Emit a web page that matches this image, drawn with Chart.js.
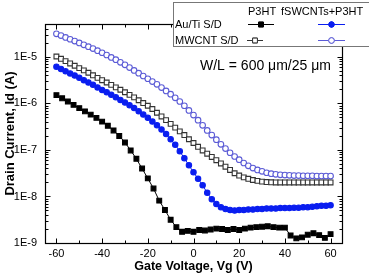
<!DOCTYPE html>
<html>
<head>
<meta charset="utf-8">
<script src="https://cdn.jsdelivr.net/npm/chart.js@4.4.1/dist/chart.umd.min.js"></script>
<style>
  html, body { margin: 0; padding: 0; background: #fff; }
  #wrap { width: 369px; height: 274px; position: relative; }
</style>
</head>
<body>
<div id="wrap"><canvas id="myChart" width="369" height="274"></canvas></div>
<script>
// gate voltage sweeps (V)
const vgStep2 = [-60,-58,-56,-54,-52,-50,-48,-46,-44,-42,-40,-38,-36,-34,-32,-30,-28,-26,-24,-22,
  -20,-18,-16,-14,-12,-10,-8,-6,-4,-2,0,2,4,6,8,10,12,14,16,18,20,22,24,26,28,30,32,34,36,38,
  40,42,44,46,48,50,52,54,56,58,60];
const vgStep25 = [-60,-57.5,-55,-52.5,-50,-47.5,-45,-42.5,-40,-37.5,-35,-32.5,-30,-27.5,-25,-22.5,
  -20,-17.5,-15,-12.5,-10,-7.5,-5,-2.5,0,2.5,5,7.5,10,12.5,15,17.5,20,22.5,25,27.5,30,32.5,35,37.5,
  40,42.5,45,47.5,50,52.5,55,57.5,60];

// drain current (A)
const auTiP3HT = [1.51e-6,1.29e-6,1.10e-6,9.33e-7,7.94e-7,6.76e-7,5.75e-7,4.90e-7,4.07e-7,3.31e-7,
  2.63e-7,2.0e-7,1.45e-7,9.77e-8,6.46e-8,3.98e-8,2.45e-8,1.48e-8,8.13e-9,5.13e-9,
  3.16e-9,2.19e-9,1.74e-9,1.82e-9,1.74e-9,1.91e-9,1.86e-9,1.95e-9,2.04e-9,2.0e-9,
  1.91e-9,2.0e-9,1.91e-9,2.04e-9,2.14e-9,2.19e-9,2.24e-9,2.29e-9,2.19e-9,2.14e-9,
  2.14e-9,1.45e-9,1.26e-9,1.32e-9,1.51e-9,1.62e-9,1.48e-9,1.29e-9,1.55e-9];
const auTiSWCNT = [6.17e-6,5.50e-6,4.90e-6,4.42e-6,3.98e-6,3.55e-6,3.16e-6,2.82e-6,2.51e-6,2.21e-6,
  1.95e-6,1.74e-6,1.53e-6,1.35e-6,1.19e-6,1.05e-6,9.12e-7,7.94e-7,6.76e-7,5.75e-7,
  4.90e-7,4.07e-7,3.39e-7,2.75e-7,2.19e-7,1.70e-7,1.29e-7,9.33e-8,6.61e-8,4.68e-8,
  3.31e-8,2.40e-8,1.74e-8,1.20e-8,8.71e-9,6.92e-9,5.89e-9,5.37e-9,5.13e-9,5.01e-9,
  5.13e-9,5.13e-9,5.25e-9,5.25e-9,5.37e-9,5.37e-9,5.50e-9,5.50e-9,5.50e-9,5.62e-9,
  5.62e-9,5.62e-9,5.75e-9,5.75e-9,5.89e-9,5.89e-9,6.03e-9,6.17e-9,6.31e-9,6.31e-9,6.46e-9];
const mwcntP3HT = [1.02e-5,9.12e-6,8.13e-6,7.24e-6,6.46e-6,5.75e-6,5.13e-6,4.57e-6,4.03e-6,3.55e-6,
  3.16e-6,2.82e-6,2.51e-6,2.21e-6,1.97e-6,1.74e-6,1.53e-6,1.35e-6,1.17e-6,1.02e-6,
  8.91e-7,7.59e-7,6.31e-7,5.25e-7,4.37e-7,3.63e-7,3.02e-7,2.51e-7,2.09e-7,1.70e-7,
  1.41e-7,1.17e-7,9.77e-8,8.32e-8,7.08e-8,6.03e-8,5.13e-8,4.37e-8,3.72e-8,3.16e-8,
  2.82e-8,2.57e-8,2.40e-8,2.26e-8,2.16e-8,2.09e-8,2.04e-8,2.02e-8,2.0e-8,2.0e-8,
  2.0e-8,2.0e-8,2.0e-8,2.0e-8,2.0e-8,2.0e-8,2.0e-8,2.0e-8,2.0e-8,2.0e-8,2.0e-8];
const mwcntSWCNT = [3.13e-5,2.88e-5,2.63e-5,2.40e-5,2.19e-5,2.0e-5,1.82e-5,1.66e-5,1.51e-5,1.36e-5,
  1.23e-5,1.10e-5,9.77e-6,8.71e-6,7.67e-6,6.76e-6,5.89e-6,5.13e-6,4.47e-6,3.89e-6,
  3.39e-6,2.95e-6,2.57e-6,2.19e-6,1.86e-6,1.58e-6,1.32e-6,1.10e-6,8.91e-7,7.08e-7,
  5.62e-7,4.37e-7,3.39e-7,2.63e-7,2.09e-7,1.66e-7,1.32e-7,1.07e-7,8.71e-8,7.24e-8,
  6.17e-8,5.25e-8,4.57e-8,4.07e-8,3.72e-8,3.47e-8,3.24e-8,3.09e-8,2.99e-8,2.92e-8,
  2.88e-8,2.85e-8,2.82e-8,2.82e-8,2.79e-8,2.79e-8,2.79e-8,2.75e-8,2.75e-8,2.75e-8,2.75e-8];

// axis ticks
const xTicks = [-60,-40,-20,0,20,40,60];
const yTicks = [1e-9,1e-8,1e-7,1e-6,1e-5];

const FONT = "Arial, 'Liberation Sans', sans-serif";
const BLUE = "#0a1ef0";
const BLUE_OPEN = "#5b5bd6";

function pts(xs, ys) {
  return ys.map((y, i) => ({ x: xs[i], y: y }));
}

function series(label, xs, ys, color, fill, style, r) {
  return {
    label: label,
    data: pts(xs, ys),
    showLine: true,
    borderColor: color,
    borderWidth: 1,
    backgroundColor: fill,
    pointBorderColor: color,
    pointBackgroundColor: fill,
    pointStyle: style,
    pointRadius: r,
    pointBorderWidth: 1.1,
    tension: 0,
  };
}

// frame, inward ticks, legend table and W/L note
const decorations = {
  id: 'decorations',
  afterDraw(chart) {
    const ctx = chart.ctx;
    const a = chart.chartArea;
    const xs = chart.scales.x, ys = chart.scales.y;
    const L = Math.round(a.left) + 0.5, R = Math.round(a.right) + 0.5;
    const T = Math.round(a.top) + 0.5, B = Math.round(a.bottom) + 0.5;
    ctx.save();
    ctx.strokeStyle = '#000';
    ctx.lineWidth = 1.2;
    ctx.strokeRect(L, T, R - L, B - T);

    ctx.lineWidth = 1;
    ctx.beginPath();
    // x ticks (major every 20, minor every 10)
    for (let v = -60; v <= 60; v += 10) {
      const px = Math.round(xs.getPixelForValue(v)) + 0.5;
      const len = v % 20 === 0 ? 5 : 3;
      ctx.moveTo(px, B); ctx.lineTo(px, B - len);
      ctx.moveTo(px, T); ctx.lineTo(px, T + len);
    }
    // y ticks, decades and minors
    for (let e = -9; e <= -5; e++) {
      for (let k = 1; k <= 9; k++) {
        const v = k * Math.pow(10, e);
        if (v > ys.max) break;
        const py = Math.round(ys.getPixelForValue(v)) + 0.5;
        const len = k === 1 ? 5 : 3;
        ctx.moveTo(L, py); ctx.lineTo(L + len, py);
        ctx.moveTo(R, py); ctx.lineTo(R - len, py);
      }
    }
    ctx.stroke();

    // legend box
    const bx = 173.5, by = 2.5, bw = 200, bh = 44;
    ctx.fillStyle = '#fff';
    ctx.fillRect(bx, by, bw, bh);
    ctx.strokeStyle = '#777';
    ctx.strokeRect(bx, by, bw, bh);

    ctx.fillStyle = '#000';
    ctx.font = '11px ' + FONT;
    ctx.textBaseline = 'middle';
    ctx.textAlign = 'left';
    ctx.fillText('P3HT', 248, 12);
    ctx.fillText('fSWCNTs+P3HT', 281, 12);
    ctx.fillText('Au/Ti S/D', 175, 25);
    ctx.fillText('MWCNT S/D', 175, 41);

    const ds = chart.data.datasets;
    const sample = (d, x1, x2, y) => {
      ctx.strokeStyle = d.borderColor;
      ctx.lineWidth = 1;
      ctx.beginPath();
      ctx.moveTo(x1, y + 0.5); ctx.lineTo(x2, y + 0.5);
      ctx.stroke();
      ctx.fillStyle = d.pointBackgroundColor;
      Chart.helpers.drawPoint(ctx, {
        pointStyle: d.pointStyle, radius: d.pointRadius, borderWidth: 1, rotation: 0
      }, (x1 + x2) / 2, y + 0.5);
      ctx.fill();
      ctx.stroke();
    };
    sample(ds[0], 248, 274, 24);
    sample(ds[1], 318, 345, 24);
    sample(ds[2], 247, 263, 40);
    sample(ds[3], 318, 345, 40);

    // note
    ctx.fillStyle = '#000';
    ctx.font = '14px ' + FONT;
    ctx.textAlign = 'left';
    ctx.fillText('W/L = 600 \u03BCm/25 \u03BCm', 200, 66);
    ctx.restore();
  }
};

const ctx = document.getElementById('myChart').getContext('2d');
new Chart(ctx, {
  type: 'scatter',
  data: {
    datasets: [
      series('Au/Ti S/D, P3HT', vgStep25, auTiP3HT, '#000', '#000', 'rect', 3.4),
      series('Au/Ti S/D, fSWCNTs+P3HT', vgStep2, auTiSWCNT, BLUE, BLUE, 'circle', 2.7),
      series('MWCNT S/D, P3HT', vgStep2, mwcntP3HT, '#333', '#fff', 'rect', 3.4),
      series('MWCNT S/D, fSWCNTs+P3HT', vgStep2, mwcntSWCNT, BLUE_OPEN, '#fff', 'circle', 2.8),
    ],
  },
  options: {
    responsive: false,
    animation: false,
    layout: { padding: { left: 0, top: 24, right: 27, bottom: 0 } },
    plugins: {
      legend: { display: false },
      tooltip: { enabled: false },
    },
    scales: {
      x: {
        type: 'linear',
        min: -65,
        max: 65,
        afterBuildTicks: (s) => { s.ticks = xTicks.map(v => ({ value: v })); },
        afterFit: (s) => { s.height = 31; },
        grid: { display: false, drawTicks: false },
        border: { display: false },
        ticks: { color: '#000', padding: 4, font: { family: FONT, size: 11 } },
        title: {
          display: true,
          text: 'Gate Voltage, Vg (V)',
          color: '#000',
          padding: { top: 0, bottom: 0 },
          font: { family: FONT, size: 12.5, weight: 'bold' },
        },
      },
      y: {
        type: 'logarithmic',
        min: 1e-9,
        max: 5.1e-5,
        afterBuildTicks: (s) => { s.ticks = yTicks.map(v => ({ value: v })); },
        afterFit: (s) => { s.width = 45; },
        grid: { display: false, drawTicks: false },
        border: { display: false },
        ticks: {
          color: '#000',
          padding: 8,
          font: { family: FONT, size: 11 },
          callback: (v) => '1E' + Math.round(Math.log10(v)),
        },
        title: {
          display: true,
          text: 'Drain Current, Id (A)',
          color: '#000',
          padding: { top: 3, bottom: 0 },
          font: { family: FONT, size: 13, weight: 'bold' },
        },
      },
    },
  },
  plugins: [decorations],
});
</script>
</body>
</html>
